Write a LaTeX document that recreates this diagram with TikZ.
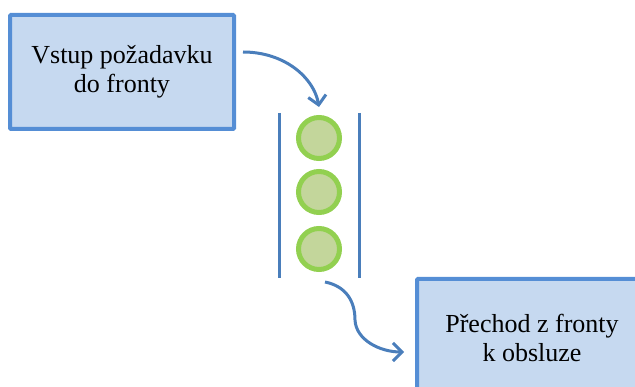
\documentclass[tikz,border=0pt]{standalone}
\usepackage{fontspec}
\setmainfont{LiberationSerif}[Extension=.ttf, UprightFont=*-Regular, BoldFont=*-Bold]
\usetikzlibrary{arrows.meta}
\definecolor{boxfill}{RGB}{198,217,240}
\definecolor{boxline}{RGB}{85,142,213}
\definecolor{arr}{RGB}{74,126,187}
\definecolor{ballfill}{RGB}{195,214,155}
\definecolor{ballline}{RGB}{146,208,80}
\tikzset{
  box/.style={draw=boxline, fill=boxfill, line width=4pt, rounded corners=1pt, align=center, font=\rmfamily\fontsize{26}{29}\selectfont, inner sep=0pt},
  ball/.style={circle, draw=ballline, fill=ballfill, line width=5pt, minimum size=41pt, inner sep=0pt},
  qline/.style={draw=arr, line width=3pt},
  flow/.style={draw=arr, line width=3pt, -{Straight Barb[length=9pt,width=18pt,line width=3pt]}}
}
\begin{document}
\begin{tikzpicture}[x=1pt,y=-1pt]
\useasboundingbox (0,0) rectangle (635,387);
\clip (0,0) rectangle (635,387);
\node[box, minimum width=224pt, minimum height=114pt] (b1) at (122,72) {Vstup požadavku\\do fronty};
\node[box, minimum width=230pt, minimum height=118pt] (b2) at (532,338) {Přechod z fronty\\k obsluze};
\node[ball] (c1) at (319,138) {};
\node[ball] (c2) at (319,192) {};
\node[ball] (c3) at (319,249) {};
\coordinate (l1) at (279,113); \coordinate (l2) at (279,278);
\coordinate (r1) at (359,113); \coordinate (r2) at (359,278);
\draw[qline] (l1) -- (l2);
\draw[qline] (r1) -- (r2);
\coordinate (s1) at (243,52);
\coordinate (e1) at (319,107);
\draw[flow] (s1) .. controls (285,52) and (314,78) .. (e1);
\coordinate (s2) at (325,282);
\coordinate (e2) at (404,352);
\draw[flow] (s2) .. controls (345,286) and (355,300) .. (355,320) .. controls (356,340) and (380,352) .. (e2);
\end{tikzpicture}
\end{document}
